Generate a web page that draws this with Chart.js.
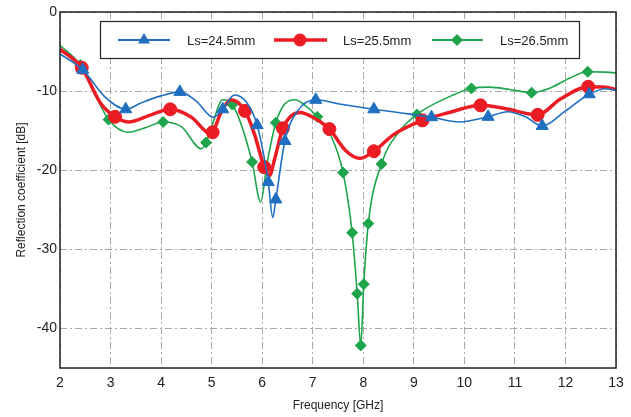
<!DOCTYPE html>
<html>
<head>
<meta charset="utf-8">
<script src="https://cdn.jsdelivr.net/npm/chart.js@4"></script>
<style>
  html, body { margin: 0; padding: 0; background: #fff; }
  #wrap { width: 631px; height: 417px; }
</style>
</head>
<body>
<div id="wrap"><canvas id="chart" width="631" height="417"></canvas></div>
<script>
// frequency ticks and dB ticks
var freqTicks = [2, 3, 4, 5, 6, 7, 8, 9, 10, 11, 12, 13]
var dbTicks = [0, -10, -20, -30, -40]
var seriesNames = ["Ls=24.5mm", "Ls=25.5mm", "Ls=26.5mm"]

var blueF  = [2.0, 2.45, 2.9, 3.3, 3.6, 4.0, 4.37, 4.7, 5.03, 5.22, 5.45, 5.7, 5.9, 6.12, 6.21, 6.27, 6.45, 6.7, 7.06, 7.5, 8.21, 8.8, 9.35, 9.9, 10.47, 10.85, 11.2, 11.54, 12.0, 12.47, 12.8, 13.0]
var blueDb = [-5.3, -7.3, -10.8, -12.3, -11.5, -10.6, -10.1, -11.3, -13.3, -12.3, -10.5, -11.5, -14.3, -21.5, -26.0, -23.7, -16.3, -12.5, -11.1, -11.6, -12.3, -12.8, -13.3, -13.9, -13.25, -12.6, -13.2, -14.4, -12.5, -10.4, -9.7, -9.9]
var blueMarkF  = [2.45, 3.3, 4.37, 5.22, 5.9, 6.12, 6.27, 6.45, 7.06, 8.21, 9.35, 10.47, 11.54, 12.47]
var blueMarkDb = [-7.3, -12.3, -10.1, -12.3, -14.3, -21.5, -23.7, -16.3, -11.1, -12.3, -13.3, -13.25, -14.4, -10.4]

// Ls=25.5mm
var redF  = [2.0, 2.43, 2.8, 3.09, 3.35, 3.8, 4.18, 4.6, 4.98, 5.2, 5.38, 5.66, 5.85, 6.04, 6.14, 6.25, 6.41, 6.75, 7.0, 7.33, 7.65, 7.93, 8.21, 8.6, 9.17, 9.7, 10.32, 10.8, 11.45, 11.9, 12.45, 12.8, 13.0]
var redDb = [-4.7, -7.05, -11.5, -13.25, -13.9, -13.0, -12.3, -13.3, -15.4, -12.5, -11.1, -12.5, -15.5, -19.6, -20.7, -18.5, -14.7, -12.7, -13.3, -14.8, -17.5, -18.5, -17.6, -15.5, -13.7, -12.7, -11.8, -12.2, -13.0, -11.0, -9.45, -9.5, -9.8]
var redMarkF  = [2.43, 3.09, 4.18, 5.02, 5.66, 6.04, 6.41, 7.33, 8.21, 9.17, 10.32, 11.45, 12.45]
var redMarkDb = [-7.05, -13.25, -12.3, -15.2, -12.5, -19.6, -14.7, -14.8, -17.6, -13.7, -11.8, -13.0, -9.45]

// Ls=26.5mm
var greenF  = [2.0, 2.4, 2.7, 2.96, 3.35, 3.7, 4.04, 4.4, 4.8, 4.89, 5.0, 5.22, 5.41, 5.6, 5.8, 5.97, 6.1, 6.27, 6.45, 6.65, 6.85, 7.09, 7.35, 7.6, 7.78, 7.88, 7.95, 8.01, 8.1, 8.36, 8.7, 9.06, 9.6, 10.14, 10.5, 10.9, 11.33, 11.7, 12.1, 12.44, 12.8, 13.0]
var greenDb = [-4.2, -6.7, -10.5, -13.6, -15.2, -14.6, -13.9, -14.5, -17.3, -16.5, -14.5, -11.1, -11.7, -14.5, -18.95, -24.0, -19.0, -14.0, -11.6, -11.1, -11.8, -13.25, -15.5, -20.3, -27.9, -35.6, -42.15, -34.4, -26.75, -19.2, -15.2, -12.95, -11.0, -9.66, -9.5, -9.8, -10.2, -9.6, -8.3, -7.55, -7.6, -7.7]
var greenMarkF  = [2.4, 2.96, 4.04, 4.89, 5.41, 5.8, 6.27, 7.09, 7.6, 7.78, 7.88, 7.95, 8.01, 8.1, 8.36, 9.06, 10.14, 11.33, 12.44]
var greenMarkDb = [-6.7, -13.6, -13.9, -16.5, -11.7, -18.95, -14.0, -13.25, -20.3, -27.9, -35.6, -42.15, -34.4, -26.75, -19.2, -12.95, -9.66, -10.2, -7.55]

var BLUE = "#1f6fc1", RED = "#ec1c24", GREEN = "#1ea54c"
var FONT = "'Liberation Sans', Arial, sans-serif"
var GRID_DASH = [7, 3, 2, 3]

function pts(xs, ys) {
  return xs.map(function(x, i) { return { x: x, y: ys[i] } })
}

function curve(xs, ys, color, width, order) {
  return {
    type: "line", data: pts(xs, ys), borderColor: color, borderWidth: width,
    pointRadius: 0, cubicInterpolationMode: "monotone", fill: false, order: order
  }
}

function markers(xs, ys, color, style, radius, order) {
  return {
    type: "scatter", data: pts(xs, ys), showLine: false, backgroundColor: color,
    borderColor: color, borderWidth: 1, pointStyle: style, pointRadius: radius, order: order
  }
}

function drawMarker(ctx, style, x, y, r, color) {
  ctx.save()
  ctx.fillStyle = color
  ctx.beginPath()
  if (style === "triangle") {
    ctx.moveTo(x, y - r)
    ctx.lineTo(x + r * 0.866, y + r * 0.5)
    ctx.lineTo(x - r * 0.866, y + r * 0.5)
  } else if (style === "circle") {
    ctx.arc(x, y, r, 0, Math.PI * 2)
  } else {
    ctx.moveTo(x, y - r); ctx.lineTo(x + r, y); ctx.lineTo(x, y + r); ctx.lineTo(x - r, y)
  }
  ctx.closePath()
  ctx.fill()
  ctx.restore()
}

// legend box sitting inside the plot, plus the black frame round the plot
var framePlugin = {
  id: "frameAndLegend",
  afterDraw: function(chart) {
    var ctx = chart.ctx, a = chart.chartArea
    ctx.save()
    ctx.strokeStyle = "#222"
    ctx.lineWidth = 1.5
    ctx.strokeRect(a.left, a.top, a.right - a.left, a.bottom - a.top)

    ctx.fillStyle = "#fff"
    ctx.fillRect(100, 21, 479, 37)
    ctx.lineWidth = 1.2
    ctx.strokeRect(100.5, 21.5, 479, 37)

    var items = [
      { x0: 118, x1: 170, m: 144, tx: 187, color: BLUE, w: 1.8, style: "triangle", r: 7 },
      { x0: 274, x1: 327, m: 300, tx: 343, color: RED, w: 3.5, style: "circle", r: 6.5 },
      { x0: 432, x1: 483, m: 457, tx: 500, color: GREEN, w: 1.8, style: "diamond", r: 6 }
    ]
    ctx.font = "13px " + FONT
    ctx.textBaseline = "middle"
    items.forEach(function(it, i) {
      ctx.strokeStyle = it.color
      ctx.lineWidth = it.w
      ctx.beginPath(); ctx.moveTo(it.x0, 40); ctx.lineTo(it.x1, 40); ctx.stroke()
      drawMarker(ctx, it.style, it.m, 40, it.r, it.color)
      ctx.fillStyle = "#222"
      ctx.fillText(seriesNames[i], it.tx, 41)
    })
    ctx.restore()
  }
}

var chart = new Chart(document.getElementById("chart"), {
  data: {
    datasets: [
      markers(blueMarkF, blueMarkDb, BLUE, "triangle", 7, 1),
      curve(blueF, blueDb, BLUE, 1.6, 2),
      markers(redMarkF, redMarkDb, RED, "circle", 6.5, 3),
      curve(redF, redDb, RED, 3.5, 4),
      markers(greenMarkF, greenMarkDb, GREEN, "rectRot", 5.5, 5),
      curve(greenF, greenDb, GREEN, 1.6, 6)
    ]
  },
  options: {
    responsive: false,
    animation: false,
    layout: { padding: { left: 0, top: 12, right: 15, bottom: 0 } },
    plugins: { legend: { display: false }, tooltip: { enabled: false } },
    scales: {
      x: {
        type: "linear", min: 2, max: 13,
        afterBuildTicks: function(s) { s.ticks = freqTicks.map(function(v) { return { value: v } }) },
        afterFit: function(s) { s.height = 49 },
        border: { display: false, dash: GRID_DASH },
        grid: { color: "#a8a8a8", lineWidth: 1, drawTicks: false },
        ticks: { color: "#222", padding: 7, font: { family: FONT, size: 14 } },
        title: { display: true, text: "Frequency [GHz]", color: "#222", padding: { top: 10 }, font: { family: FONT, size: 12 } }
      },
      y: {
        type: "linear", min: -45, max: 0,
        afterBuildTicks: function(s) { s.ticks = dbTicks.map(function(v) { return { value: v } }) },
        afterFit: function(s) { s.width = 60 },
        border: { display: false, dash: GRID_DASH },
        grid: { color: "#a8a8a8", lineWidth: 1, drawTicks: false },
        ticks: { color: "#222", padding: 3, font: { family: FONT, size: 14 } },
        title: { display: true, text: "Reflection coefficient [dB]", color: "#222", padding: { top: 14, bottom: 2 }, font: { family: FONT, size: 12 } }
      }
    }
  },
  plugins: [framePlugin]
})
</script>
</body>
</html>
